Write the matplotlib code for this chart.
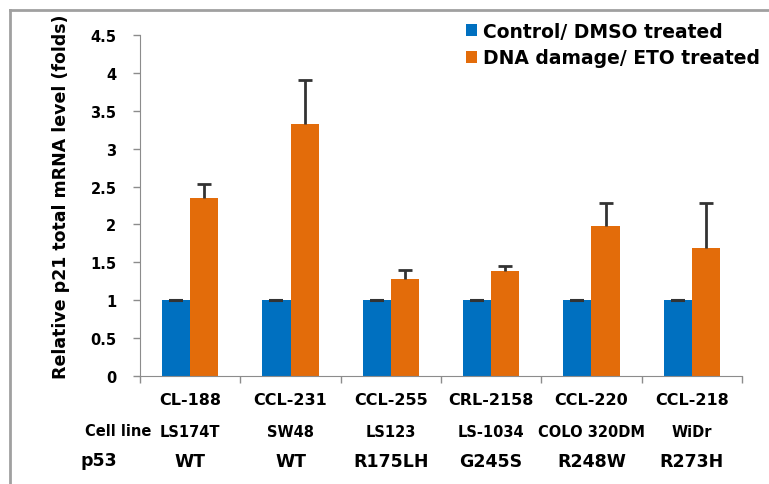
import matplotlib.pyplot as plt
import numpy as np
from matplotlib.lines import Line2D

# data
atcc = ['CL-188', 'CCL-231', 'CCL-255', 'CRL-2158', 'CCL-220', 'CCL-218']
cell_lines = ['LS174T', 'SW48', 'LS123', 'LS-1034', 'COLO 320DM', 'WiDr']
p53 = ['WT', 'WT', 'R175LH', 'G245S', 'R248W', 'R273H']
control = [1.0, 1.0, 1.0, 1.0, 1.0, 1.0]
control_err = [0.005, 0.005, 0.005, 0.005, 0.005, 0.005]
eto = [2.35, 3.33, 1.28, 1.385, 1.98, 1.69]
eto_err = [0.18, 0.58, 0.12, 0.07, 0.30, 0.59]

blue = '#0070C0'
orange = '#E36C0A'
grey = '#8c8c8c'

fig = plt.figure(figsize=(7.69, 4.85), dpi=100)
ax = fig.add_axes([140 / 769, 1 - 377 / 485, (742 - 140) / 769, (377 - 36) / 485])

x = np.arange(len(atcc))
w = 0.28
ax.bar(x - w / 2, control, w, color=blue, label='Control/ DMSO treated',
       yerr=control_err, capsize=5, error_kw=dict(ecolor='#333333', elinewidth=1.5, capthick=1.5))
b2 = ax.bar(x + w / 2, eto, w, color=orange, label='DNA damage/ ETO treated',
            yerr=[np.zeros(len(eto)), eto_err], capsize=5,
            error_kw=dict(ecolor='#333333', elinewidth=2, capthick=2))
# only the upper caps
b2.errorbar.lines[1][0].set_visible(False)

ax.set_xlim(-0.5, len(atcc) - 0.5)
ax.set_ylim(0, 4.5)
ax.set_yticks(np.arange(0, 4.51, 0.5))
ax.set_yticklabels(['0', '0.5', '1', '1.5', '2', '2.5', '3', '3.5', '4', '4.5'],
                   fontweight='bold', fontsize=10.5)
ax.set_xticks(np.arange(-0.5, len(atcc), 1))
ax.set_xticklabels([])
ax.tick_params(axis='both', color=grey, length=5, width=1)
ax.tick_params(axis='y', pad=12)
for s in ['top', 'right']:
    ax.spines[s].set_visible(False)
for s in ['left', 'bottom']:
    ax.spines[s].set_color(grey)

ax.set_ylabel('Relative p21 total mRNA level (folds)', fontweight='bold',
              fontsize=12.5, va='center')
ax.yaxis.set_label_coords((61 - 140) / 602, (377 - 197) / 341)

# label rows under the axis
for i in range(len(atcc)):
    ax.annotate(atcc[i], (x[i], 0), xycoords=('data', 'axes fraction'),
                xytext=(0, -17), textcoords='offset points', ha='center',
                va='center', fontsize=11.5, fontweight='bold')
    ax.annotate(cell_lines[i], (x[i], 0), xycoords=('data', 'axes fraction'),
                xytext=(0, -40), textcoords='offset points', ha='center',
                va='center', fontsize=10.5, fontweight='bold')
    ax.annotate(p53[i], (x[i], 0), xycoords=('data', 'axes fraction'),
                xytext=(0, -61), textcoords='offset points', ha='center',
                va='center', fontsize=12.5, fontweight='bold')
fig.text(151 / 769, 1 - 432 / 485, 'Cell line', ha='right', va='center',
         fontsize=10.5, fontweight='bold')
fig.text(80 / 769, 1 - 461 / 485, 'p53', ha='left', va='center',
         fontsize=12.5, fontweight='bold')

ax.legend(loc='upper left', bbox_to_anchor=(449 / 769, 1 - 6 / 485),
          bbox_transform=fig.transFigure, frameon=False,
          prop=dict(weight='bold', size=13.5), handlelength=0.6, handleheight=0.6,
          handletextpad=0.3, labelspacing=0.4)

# grey frame on left and top of the figure
fig.add_artist(Line2D([10 / 769, 10 / 769], [0, 1 - 11 / 485], color='#a0a0a0', lw=2))
fig.add_artist(Line2D([10 / 769, 1], [1 - 11 / 485, 1 - 11 / 485], color='#a0a0a0', lw=2))

plt.savefig('out.png', dpi=100)
